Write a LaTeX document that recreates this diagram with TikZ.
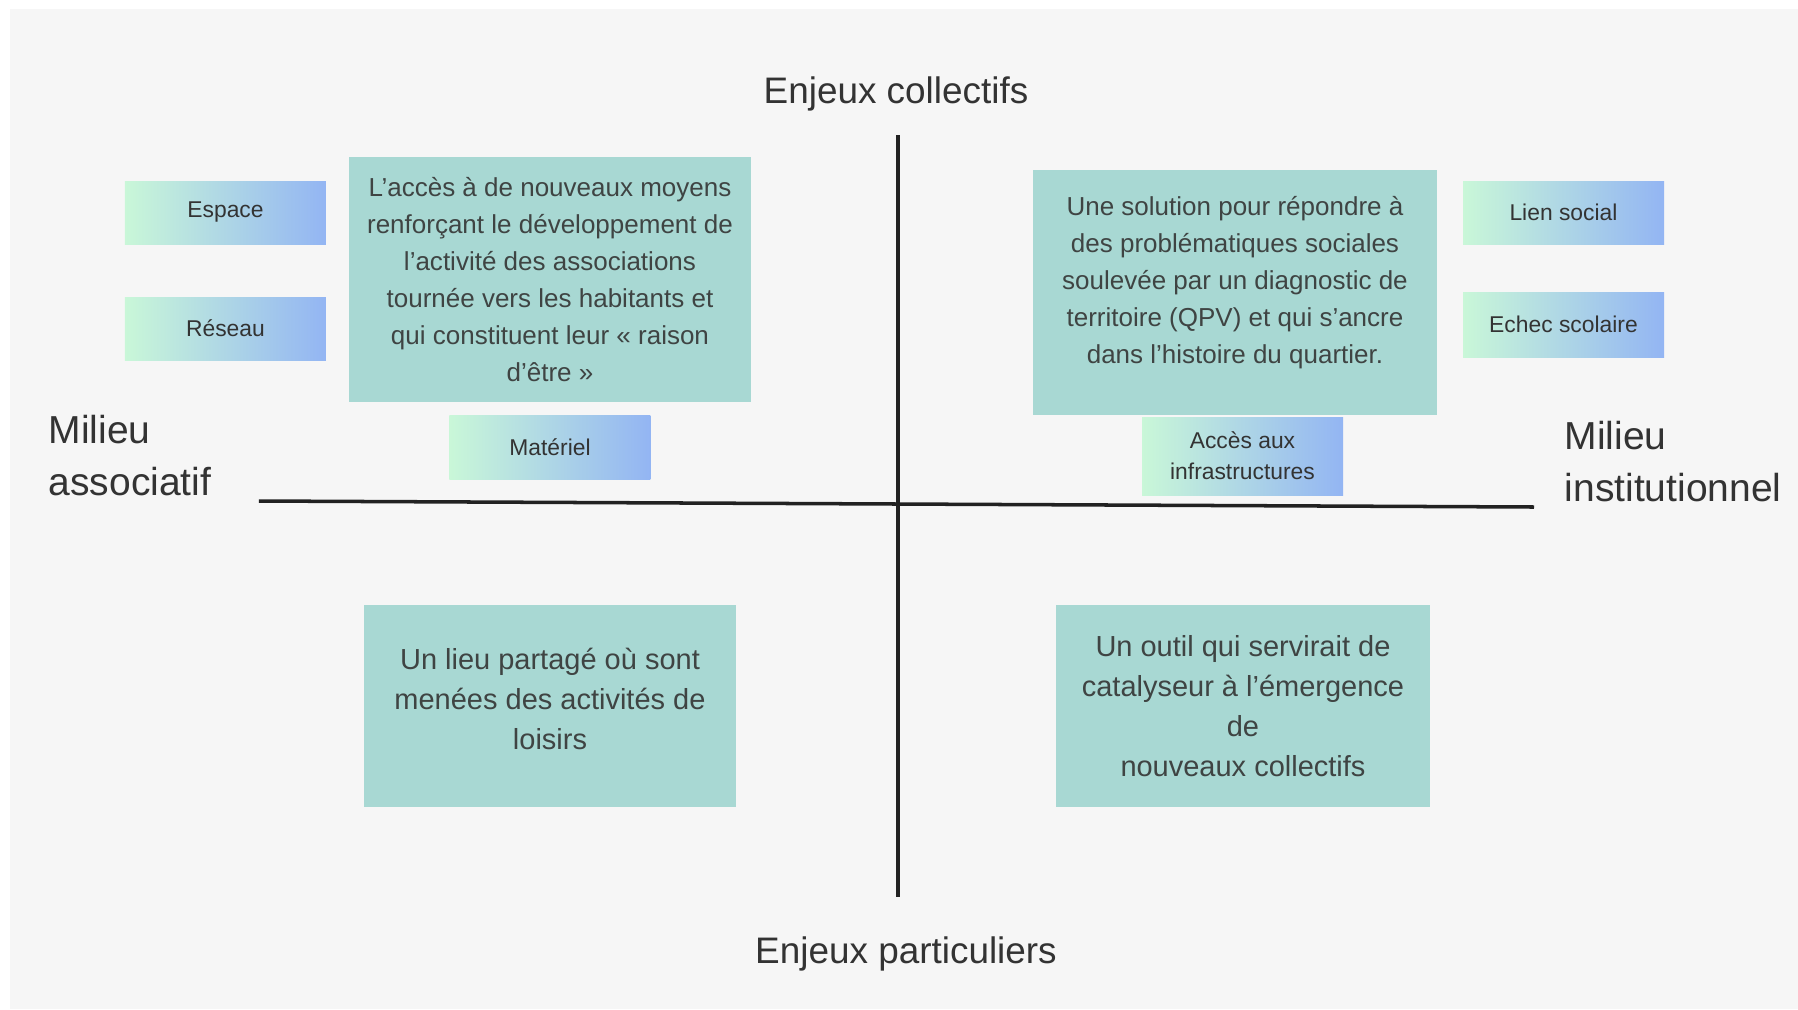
\documentclass[tikz,border=0pt]{standalone}
\usepackage{fontspec}
\setmainfont{Liberation Sans}
\usepackage{tikz}
\definecolor{fond}{HTML}{F6F6F6}
\definecolor{bleuvert}{HTML}{A8D8D3}
\definecolor{tagvert}{HTML}{C9F7D8}
\definecolor{tagbleu}{HTML}{93B5F3}
\definecolor{encre}{HTML}{333333}
\definecolor{axe}{HTML}{222222}
\tikzset{
    enjeu/.style={text=encre, inner sep=0pt, font=\fontsize{10.5}{12}\selectfont},
    milieu/.style={text=encre, anchor=west, align=left, inner sep=0pt, font=\fontsize{11.1}{14.8}\selectfont},
    grandbloc/.style={fill=bleuvert, text=encre!90!bleuvert, align=center, inner sep=0pt, font=\fontsize{7.4}{10.5}\selectfont},
    petitbloc/.style={grandbloc, font=\fontsize{8.25}{11.4}\selectfont},
    texte/.style={text=encre!90!bleuvert, align=center, inner sep=0pt},
    etiquette/.style={left color=tagvert, right color=tagbleu, text=encre, align=center, inner sep=0pt, minimum width=2.01cm, minimum height=.63cm, font=\fontsize{6.5}{8.8}\selectfont}
}

\begin{document}
\begin{tikzpicture}
    \useasboundingbox (-8.98, 5.04) rectangle (9, -5.05);
    \fill[white](-8.98, 5.04) rectangle (9, -5.05);
    \fill[fond](-8.88, 4.95) rectangle (9, -5.05);
    \coordinate (haut) at (0, 3.69);
    \coordinate (bas) at (0, -3.93);
    \coordinate (gauche) at (-6.39, .03);
    \coordinate (droite) at (6.36, -.03);
    \draw[axe, line width=1pt](haut)--(bas);
    \draw[axe, line width=1pt](gauche)--(droite);
    \node[enjeu] (collectifs) at (-.02, 4.1) {Enjeux collectifs};
    \node[enjeu] (particuliers) at (.08, -4.5) {Enjeux particuliers};
    \begin{scope}
        \node[milieu] (associatif) at (-8.5, .48) {Milieu\\associatif};
        \node[grandbloc, minimum width=4.02cm, minimum height=2.45cm] (moyens) at (-3.48, 2.245) {L’accès à de nouveaux moyens\\renforçant le développement de\\l’activité des associations\\tournée vers les habitants et\\qui constituent leur «~raison\\d’être~»};
        \node[etiquette] (espace) at (-6.725, 2.915) {Espace};
        \node[etiquette] (reseau) at (-6.725, 1.755) {Réseau};
        \node[etiquette, minimum height=.64cm] (materiel) at (-3.48, .57) {Matériel};
        \node[petitbloc, minimum width=3.72cm, minimum height=2.02cm] (lieu) at (-3.48, -2.02) {};
        \node[texte, font=\fontsize{8.25}{11.4}\selectfont] (lieutexte) at ([yshift=.07cm]lieu.center) {Un lieu partagé où sont\\menées des activités de\\loisirs};
    \end{scope}
    \begin{scope}
        \node[milieu] (institutionnel) at (6.66, .42) {Milieu\\institutionnel};
        \node[grandbloc, minimum width=4.04cm, minimum height=2.45cm] (solution) at (3.37, 2.115) {};
        \node[texte, font=\fontsize{7.4}{10.5}\selectfont] (solutiontexte) at ([yshift=.1cm]solution.center) {Une solution pour répondre à\\des problématiques sociales\\soulevée par un diagnostic de\\territoire (QPV) et qui s’ancre\\dans l’histoire du quartier.};
        \node[etiquette] (lien) at (6.655, 2.915) {Lien social};
        \node[etiquette, minimum height=.65cm] (echec) at (6.655, 1.795) {Echec scolaire};
        \node[etiquette, minimum height=.78cm] (acces) at (3.445, .48) {Accès aux\\infrastructures};
        \node[petitbloc, minimum width=3.74cm, minimum height=2.02cm] (outil) at (3.45, -2.02) {Un outil qui servirait de\\catalyseur à l’émergence\\de\\nouveaux collectifs};
    \end{scope}
\end{tikzpicture}
\end{document}
